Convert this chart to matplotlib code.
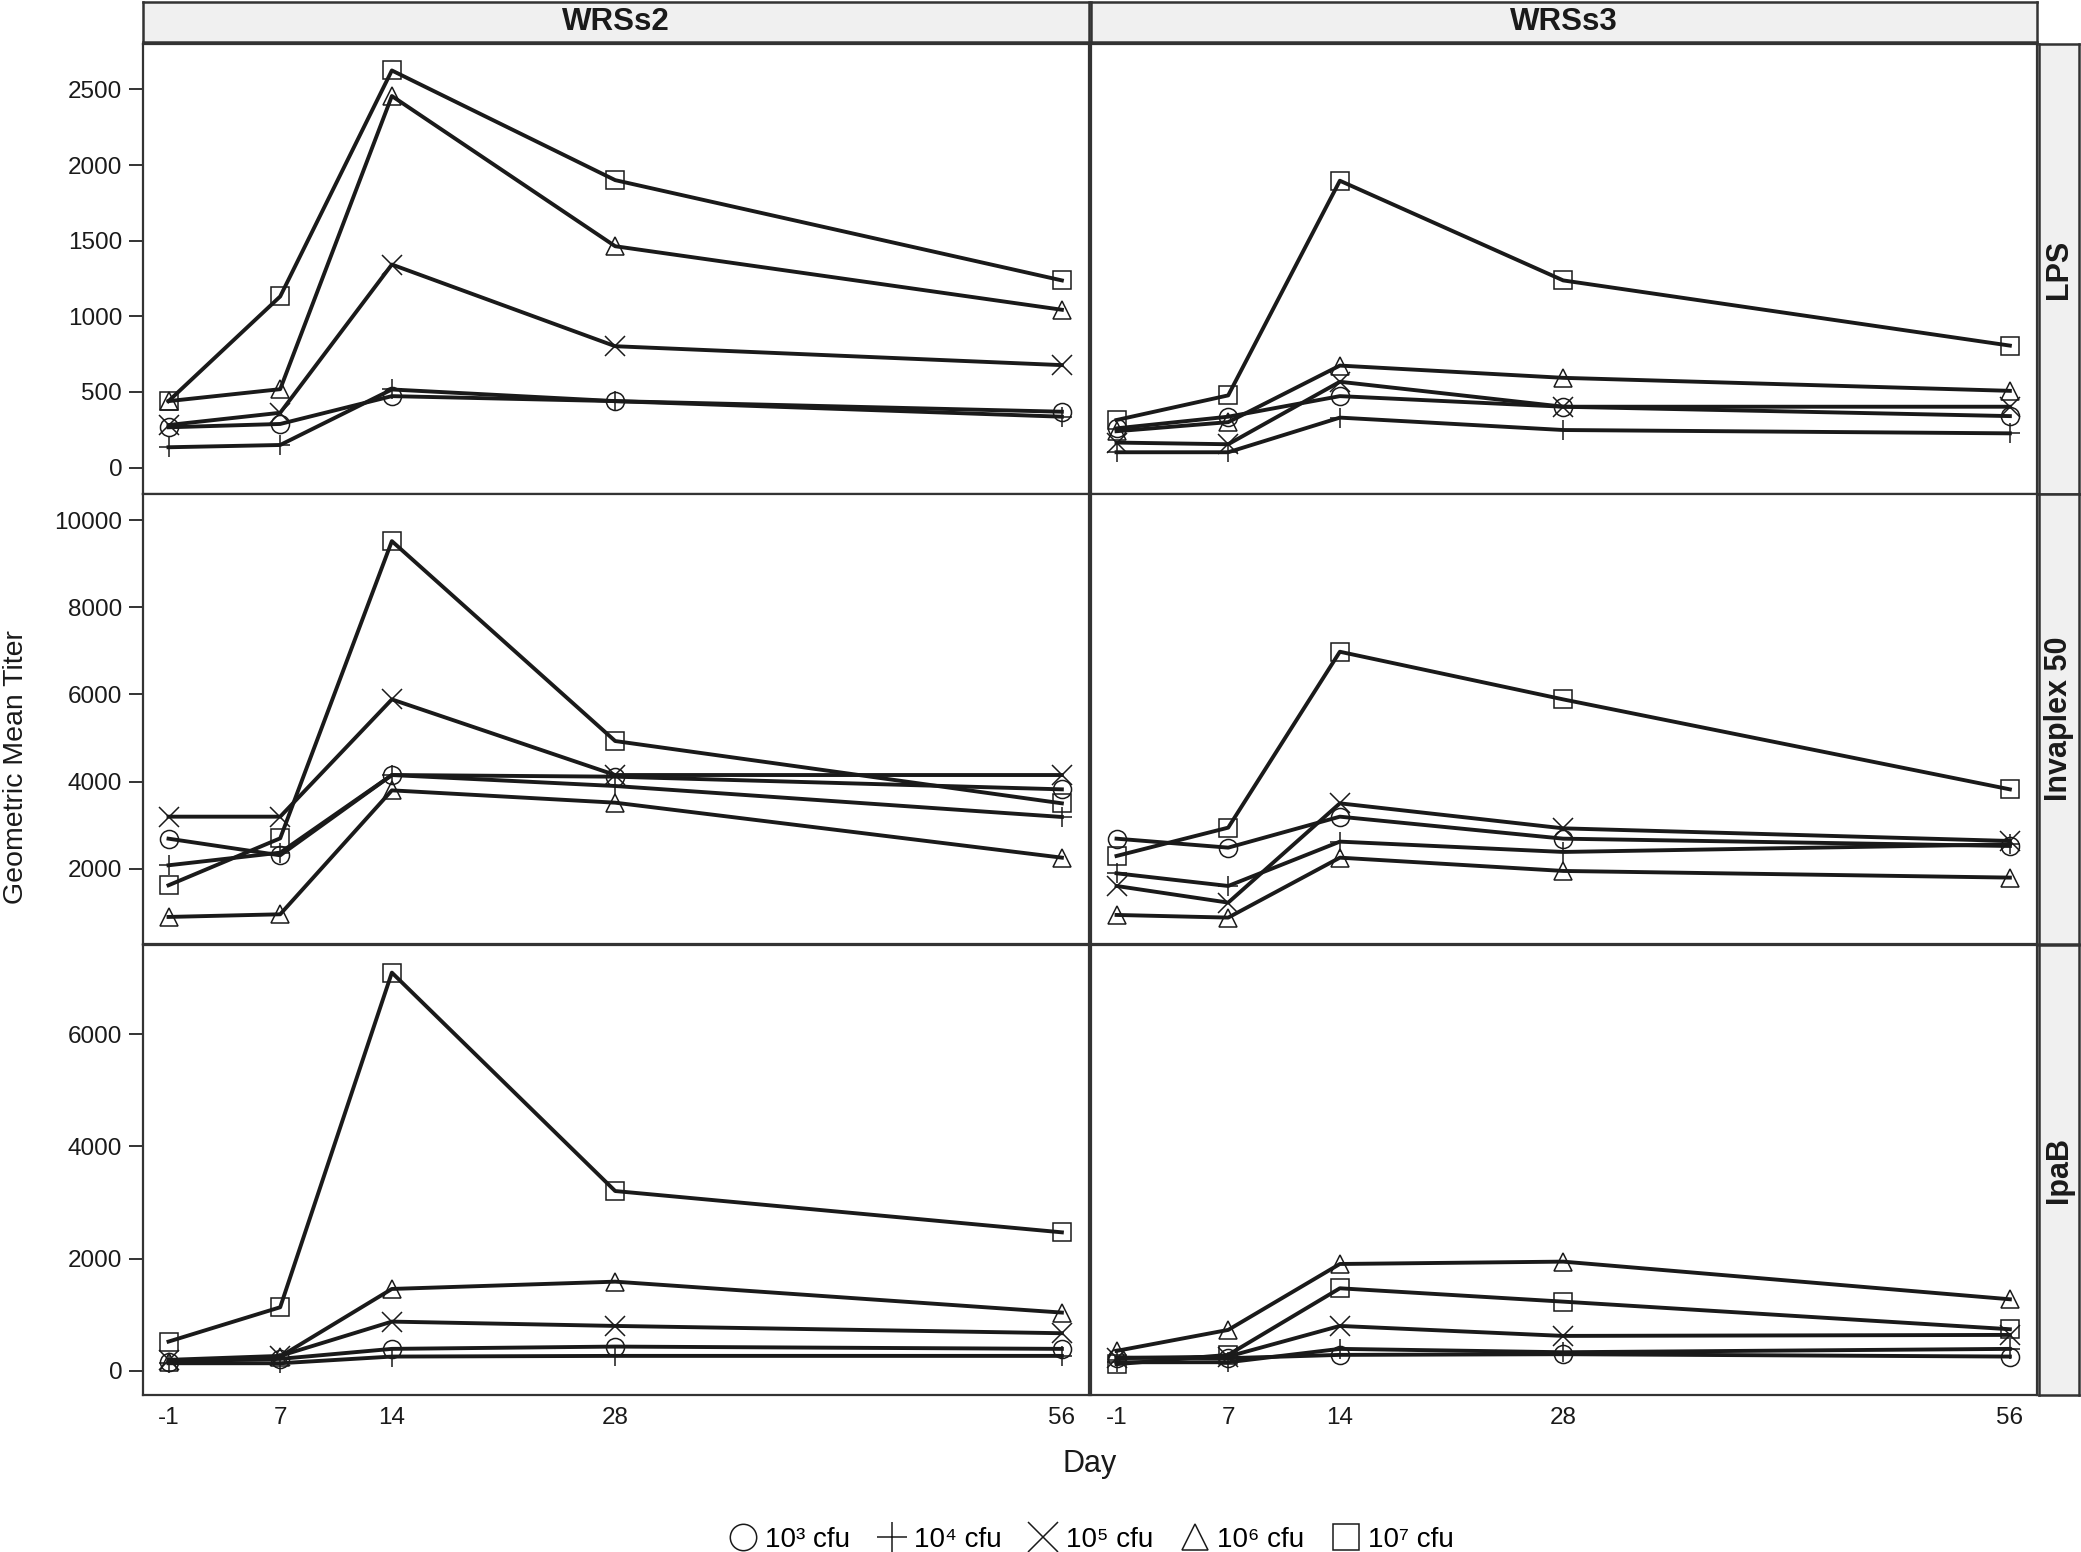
import matplotlib
matplotlib.use('Agg')
import matplotlib.pyplot as plt
from matplotlib.lines import Line2D

plt.rcParams['font.family'] = ['Liberation Sans', 'DejaVu Sans']

# Day labels; day -1 is drawn at position 0 in the original
day_labels = ['-1', '7', '14', '28', '56']
day_pos = [0, 7, 14, 28, 56]

doses = ['10³ cfu', '10⁴ cfu', '10⁵ cfu', '10⁶ cfu', '10⁷ cfu']
markers = ['o', '+', 'x', '^', 's']

strains = ['WRSs2', 'WRSs3']
antigens = ['LPS', 'Invaplex 50', 'IpaB']

# series order: 10^3, 10^4, 10^5, 10^6, 10^7
lps_wrss2 = [
    [266, 288, 472, 439, 369],
    [134, 149, 516, 439, 336],
    [281, 362, 1342, 802, 677],
    [439, 518, 2456, 1463, 1043],
    [439, 1131, 2625, 1900, 1237],
]
lps_wrss3 = [
    [259, 336, 472, 402, 340],
    [101, 101, 330, 248, 226],
    [165, 154, 567, 402, 402],
    [240, 300, 674, 593, 507],
    [314, 477, 1896, 1237, 806],
]
inv_wrss2 = [
    [2688, 2306, 4149, 4111, 3820],
    [2077, 2367, 4149, 3897, 3186],
    [3193, 3193, 5885, 4149, 4149],
    [891, 952, 3797, 3514, 2252],
    [1618, 2696, 9518, 4929, 3499],
]
inv_wrss3 = [
    [2688, 2482, 3193, 2688, 2520],
    [1893, 1602, 2620, 2383, 2558],
    [1602, 1220, 3499, 2925, 2635],
    [937, 876, 2252, 1947, 1794],
    [2291, 2941, 6979, 5885, 3820],
]
ipab_wrss2 = [
    [166, 214, 392, 433, 392],
    [136, 136, 255, 267, 267],
    [196, 267, 878, 801, 671],
    [154, 255, 1460, 1590, 1039],
    [522, 1134, 7098, 3205, 2469],
]
ipab_wrss3 = [
    [237, 226, 285, 297, 255],
    [154, 154, 392, 332, 392],
    [226, 255, 801, 623, 641],
    [356, 730, 1905, 1947, 1276],
    [119, 285, 1472, 1234, 742],
]

panels = [[lps_wrss2, lps_wrss3], [inv_wrss2, inv_wrss3], [ipab_wrss2, ipab_wrss3]]
ylims = [(-175, 2800), (270, 10600), (-430, 7590)]
yticks = [[0, 500, 1000, 1500, 2000, 2500],
          [2000, 4000, 6000, 8000, 10000],
          [0, 2000, 4000, 6000]]

W, H = 2081, 1552
fig = plt.figure(figsize=(W / 100, H / 100), dpi=100)

col_x = [143, 1091]
col_w = 946
row_y = [44, 494, 945]
row_h = 450
edge = '#333333'
ink = '#1a1a1a'


def frac_box(x0, y0, w, h):
    return [x0 / W, 1 - (y0 + h) / H, w / W, h / H]


for r in range(3):
    for c in range(2):
        ax = fig.add_axes(frac_box(col_x[c], row_y[r], col_w, row_h))
        for k, series in enumerate(panels[r][c]):
            ax.plot(day_pos, series, color=ink, lw=2.8, marker=markers[k],
                    markersize=13 if markers[k] in 'o^s' else 15,
                    mfc='none', mec=ink, mew=1.1)
        ax.set_xlim(-1.6, 57.7)
        ax.set_ylim(*ylims[r])
        ax.set_xticks(day_pos)
        ax.set_yticks(yticks[r])
        for s in ax.spines.values():
            s.set_color(edge)
            s.set_linewidth(1.6)
        ax.tick_params(axis='y', direction='out', length=10, width=1.4, color=edge,
                       labelsize=17.5, labelcolor=ink, pad=5)
        ax.tick_params(axis='x', length=0, labelsize=17.5, labelcolor=ink, pad=9)
        if c == 0:
            ax.set_yticklabels([str(v) for v in yticks[r]])
        else:
            ax.tick_params(axis='y', left=False, labelleft=False)
        if r == 2:
            ax.set_xticklabels(day_labels)
        else:
            ax.tick_params(axis='x', labelbottom=False)

# top strips
for c in range(2):
    sx = fig.add_axes(frac_box(col_x[c], 2, col_w, 40))
    sx.set_facecolor('#f0f0f0')
    sx.set_xticks([])
    sx.set_yticks([])
    for s in sx.spines.values():
        s.set_color(edge)
        s.set_linewidth(1.8)
    sx.text(0.5, 0.5, strains[c], ha='center', va='center', fontsize=22.5,
            fontweight='bold', color=ink, transform=sx.transAxes)

# right strips
for r in range(3):
    sx = fig.add_axes(frac_box(2039, row_y[r], 40, row_h))
    sx.set_facecolor('#f0f0f0')
    sx.set_xticks([])
    sx.set_yticks([])
    for s in sx.spines.values():
        s.set_color(edge)
        s.set_linewidth(1.8)
    sx.text(0.5, 0.5, antigens[r], ha='center', va='center', fontsize=22,
            fontweight='bold', color=ink, rotation=90, transform=sx.transAxes)

fig.text(16 / W, 1 - 767 / H, 'Geometric Mean Titer', rotation=90,
         ha='center', va='center', fontsize=20.5, color=ink)
fig.text(1090 / W, 1 - 1464 / H, 'Day', ha='center', va='center',
         fontsize=22, color=ink)

handles = [Line2D([], [], ls='none', marker=m, markersize=19 if m in 'o^s' else 22,
                  mfc='none', mec=ink, mew=1.1) for m in markers]
fig.legend(handles, doses, loc='center', bbox_to_anchor=(1090 / W, 1 - 1540 / H),
           ncol=5, frameon=False, fontsize=20, handletextpad=0.2,
           columnspacing=0.9, handlelength=1.2)

fig.savefig('out.png', dpi=100)
